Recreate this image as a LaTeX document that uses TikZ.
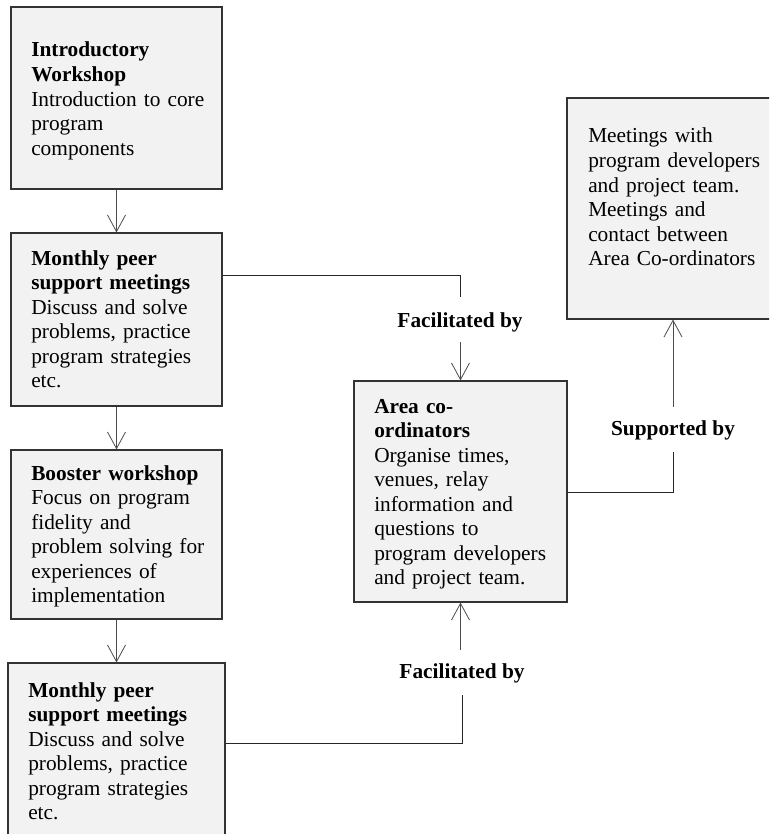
\documentclass[tikz,border=0pt]{standalone}
\usepackage{fontspec}
\setmainfont{Liberation Serif}
\usetikzlibrary{arrows.meta,fit}
\begin{document}
\begin{tikzpicture}[x=0.75pt,y=-0.75pt,
  box/.style={draw=black!80, fill=black!5, line width=0.8pt, inner sep=0pt},
  txt/.style={anchor=base west, inner sep=0pt, text width=220pt, align=left, font=\fontsize{16}{18.4}\selectfont},
  lbl/.style={inner sep=0pt, font=\fontsize{16}{18.4}\selectfont\bfseries},
  conn/.style={draw=black!85, line width=0.75pt},
  arr/.style={draw=black!70, line width=0.6pt, -{Straight Barb[length=12.5pt,width=13.5pt,line width=0.6pt]}}]
\useasboundingbox (0,0) rectangle (769,834);
\begin{scope}
\clip (0,0) rectangle (769,834);
\node[box, fit={(11,7) (222,189)}] (b1) {};
\node[box, fit={(11,233) (222,406)}] (b2) {};
\node[box, fit={(11,450) (222,619)}] (b3) {};
\node[box, fit={(8,663) (225,860)}] (b4) {};
\node[box, fit={(354,381) (567,602)}] (area) {};
\node[box, fit={(567,98) (800,319)}] (b6) {};
\end{scope}

\node[txt] (t1) at (31,57) {\textbf{Introductory}\\\textbf{Workshop}\\Introduction to core\\program\\components};
\node[txt] (t2) at (31,265) {\textbf{Monthly peer}\\\textbf{support meetings}\\Discuss and solve\\problems, practice\\program strategies\\etc.};
\node[txt] (t3) at (31,480) {\textbf{Booster workshop}\\Focus on program\\fidelity and\\problem solving for\\experiences of\\implementation};
\node[txt] (t4) at (28,697) {\textbf{Monthly peer}\\\textbf{support meetings}\\Discuss and solve\\problems, practice\\program strategies\\etc.};
\node[txt] (t5) at (374,413) {\textbf{Area co-}\\\textbf{ordinators}\\Organise times,\\venues, relay\\information and\\questions to\\program developers\\and project team.};
\node[txt] (t6) at (588,143) {Meetings with\\program developers\\and project team.\\Meetings and\\contact between\\Area Co-ordinators};

\node[lbl] (f1) at (460,322) {Facilitated by};
\node[lbl] (f2) at (462,673) {Facilitated by};
\node[lbl] (s1) at (673,430) {Supported by};

\coordinate (f1a) at (460,297);
\coordinate (f1b) at (460.5,342);
\coordinate (f2a) at (462,695);
\coordinate (f2b) at (460.5,650);
\coordinate (s1a) at (673,452);
\coordinate (s1b) at (673,407);

\draw[arr] (b1.south) -- (b2.north);
\draw[arr] (b2.south) -- (b3.north);
\draw[arr] (b3.south) -- (b3.south |- b4.north);

\draw[conn] (b2.east |- 0,275) -- (f1a |- 0,275) -- (f1a);
\draw[arr] (f1b) -- (area.north);
\draw[conn] (b4.east |- 0,743) -- (f2a |- 0,743) -- (f2a);
\draw[arr] (f2b) -- (area.south);
\draw[conn] (area.east |- 0,492) -- (s1a |- 0,492) -- (s1a);
\draw[arr] (s1b) -- (s1b |- b6.south);
\end{tikzpicture}
\end{document}
